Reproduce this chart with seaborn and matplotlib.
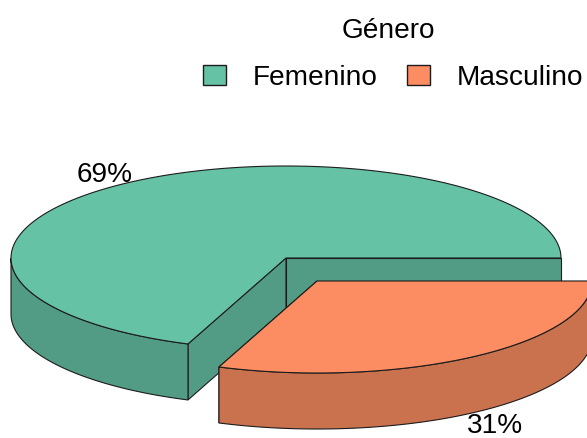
import numpy as np
import matplotlib
matplotlib.use('Agg')
import matplotlib.pyplot as plt
from matplotlib.patches import Patch, Polygon
import seaborn as sns

categories = ['Femenino', 'Masculino']
shares = [69.2, 30.8]
legend_title = 'Género'

sns.set_theme(style='white')
plt.rcParams['font.family'] = ['Liberation Sans', 'DejaVu Sans']
colors = sns.color_palette('Set2', 2)

# pie geometry in figure pixels
rx, ry, depth = 275, 92, 56
centers = [(286, 258), (317, 281)]
label_pos = [(105, 175), (495, 426)]
edge = '#1c1c1c'
lw = 0.8


def arc(cx, cy, a0, a1):
    t = np.radians(np.linspace(a0, a1, 200))
    return np.column_stack([cx + rx * np.cos(t), cy - ry * np.sin(t)])


def shift(pts):
    return pts + np.array([0, depth])


def side(ax, pts, color, z):
    # extruded face below an edge
    poly = np.vstack([pts, shift(pts)[::-1]])
    ax.add_patch(Polygon(poly, closed=True, fc=color, ec=edge, lw=lw, zorder=z))


fig = plt.figure(figsize=(5.87, 4.38), dpi=100)
ax = fig.add_axes([0, 0, 1, 1])
ax.set_xlim(0, 587)
ax.set_ylim(438, 0)
ax.axis('off')

edges = np.cumsum([0] + shares) / sum(shares) * 360
for i, share in enumerate(shares):
    cx, cy = centers[i]
    a0, a1 = edges[i], edges[i + 1]
    z = 2 + i * 5
    dark = tuple(c * 0.8 for c in colors[i])
    top = arc(cx, cy, a0, a1)
    apex = np.array([[cx, cy]])
    # inner radial faces, then the visible part of the rim
    side(ax, np.vstack([apex, top[:1]]), dark, z)
    side(ax, np.vstack([apex, top[-1:]]), dark, z)
    lo = max(a0, 180)
    side(ax, arc(cx, cy, lo, a1), dark, z + 1)
    ax.add_patch(Polygon(np.vstack([apex, top]), closed=True, fc=colors[i], ec=edge, lw=lw, zorder=z + 2))
    ax.text(label_pos[i][0], label_pos[i][1], f'{share:.0f}%', fontsize=20.2, ha='center', va='center',
            color='black', zorder=20)

handles = [Patch(fc=colors[i], ec=edge, lw=1.0, label=categories[i]) for i in range(2)]
leg = ax.legend(handles=handles, title=legend_title, ncol=2, loc='upper left', bbox_to_anchor=(203 / 587, 1 - 18 / 438),
                frameon=False, fontsize=20.2, title_fontsize=20.2, borderpad=0, borderaxespad=0,
                handlelength=0.82, handleheight=0.68, handletextpad=0.96, columnspacing=1.04, labelcolor='black')
leg.get_title().set_color('black')
leg.get_title().set_position((-5, 0))
leg._legend_box.sep = 15

fig.savefig('out.png', dpi=100)
